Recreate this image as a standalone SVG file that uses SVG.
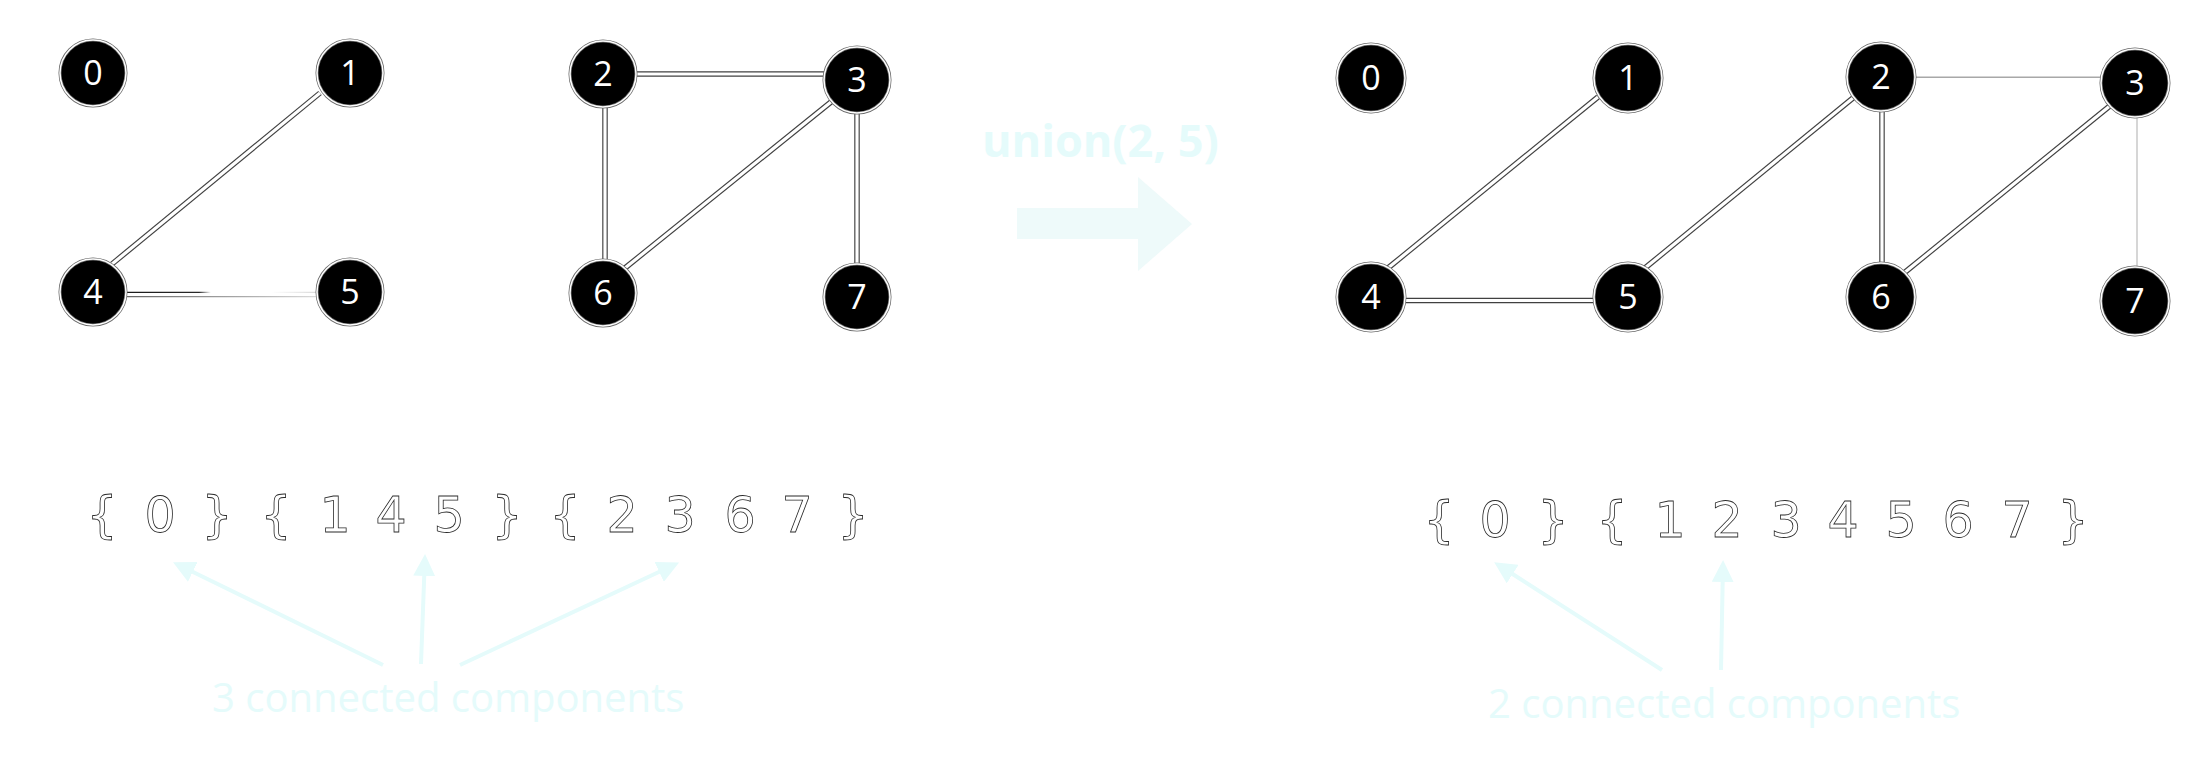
<svg xmlns="http://www.w3.org/2000/svg" width="2197" height="770" viewBox="0 0 2197 770">
<style>
.bg{fill:#ffffff}
.node circle{fill:#000;stroke:#6a6a6a;stroke-width:3}
.node .ring{fill:none;stroke:#fff;stroke-width:1.5}
.node text{font-family:"Open Sans","Liberation Sans",sans-serif;font-size:34px;fill:#fff;text-anchor:middle}
.eo{stroke:#404040;stroke-width:5.5;fill:none}
.ei{stroke:#fff;stroke-width:3.2;fill:none}
.set{font-family:"DejaVu Sans","Liberation Sans",sans-serif;font-size:49px;fill:#fff;stroke:#2a2a2a;stroke-width:0.8;text-anchor:middle}
.cap{font-family:"Open Sans","Liberation Sans",sans-serif;font-size:40px;fill:#e5fbfb}
.uni{font-family:"Open Sans","Liberation Sans",sans-serif;font-size:45px;font-weight:bold;fill:#e5fbfb}
.pt{stroke:#e5fbfb;stroke-width:4;fill:none;marker-end:url(#ah)}
</style>
<defs>
<marker id="ah" viewBox="0 -11 22 22" markerWidth="22" markerHeight="22" refX="2" refY="0" orient="auto" markerUnits="userSpaceOnUse">
<path d="M0,-11 L22,0 L0,11 z" fill="#e5fbfb"/>
</marker>
<linearGradient id="g45t" gradientUnits="userSpaceOnUse" x1="125" y1="0" x2="320" y2="0">
<stop offset="0" stop-color="#1a1a1a"/>
<stop offset="0.38" stop-color="#2a2a2a"/>
<stop offset="0.44" stop-color="#ffffff"/>
<stop offset="0.75" stop-color="#ffffff"/>
<stop offset="1" stop-color="#d8d8d8"/>
</linearGradient>
<linearGradient id="g45b" gradientUnits="userSpaceOnUse" x1="125" y1="0" x2="320" y2="0">
<stop offset="0" stop-color="#666"/>
<stop offset="0.6" stop-color="#aaa"/>
<stop offset="1" stop-color="#ddd"/>
</linearGradient>
</defs>
<rect class="bg" x="0" y="0" width="2197" height="770"/>

<g id="connectors">
<!-- left graph -->
<line class="eo" x1="320" y1="93" x2="112" y2="264"/>
<line class="ei" x1="320" y1="93" x2="112" y2="264"/>
<line x1="126" y1="292.3" x2="318" y2="292.3" stroke="url(#g45t)" stroke-width="1.2"/>
<line x1="126" y1="296.7" x2="318" y2="296.7" stroke="url(#g45b)" stroke-width="1.2"/>
<line class="eo" x1="635" y1="74" x2="825" y2="74"/>
<line class="ei" x1="635" y1="74" x2="825" y2="74"/>
<line class="eo" x1="605" y1="107" x2="605" y2="260"/>
<line class="ei" x1="605" y1="107" x2="605" y2="260"/>
<line class="eo" x1="831" y1="102" x2="625" y2="268"/>
<line class="ei" x1="831" y1="102" x2="625" y2="268"/>
<line class="eo" x1="857" y1="113" x2="857" y2="265"/>
<line class="ei" x1="857" y1="113" x2="857" y2="265"/>
<!-- right graph -->
<line class="eo" x1="1598" y1="97" x2="1388" y2="268"/>
<line class="ei" x1="1598" y1="97" x2="1388" y2="268"/>
<line class="eo" x1="1404" y1="300.5" x2="1596" y2="300.5"/>
<line class="ei" x1="1404" y1="300.5" x2="1596" y2="300.5"/>
<line class="eo" x1="1645" y1="268" x2="1853" y2="98"/>
<line class="ei" x1="1645" y1="268" x2="1853" y2="98"/>
<line x1="1914" y1="77.3" x2="2102" y2="77.3" stroke="#a8a8a8" stroke-width="1.5"/>
<line class="eo" x1="1882" y1="112" x2="1882" y2="266"/>
<line class="ei" x1="1882" y1="112" x2="1882" y2="266"/>
<line class="eo" x1="2111" y1="105" x2="1904" y2="273"/>
<line class="ei" x1="2111" y1="105" x2="1904" y2="273"/>
<line x1="2137" y1="116" x2="2137" y2="268" stroke="#d6d6d6" stroke-width="2"/>
<!-- pointer arrows -->
<line class="pt" x1="383" y1="665" x2="191" y2="571"/>
<line class="pt" x1="421" y1="664" x2="424.3" y2="574"/>
<line class="pt" x1="460" y1="665" x2="661" y2="571"/>
<line class="pt" x1="1662" y1="670" x2="1511" y2="573"/>
<line class="pt" x1="1721" y1="670" x2="1722.7" y2="580"/>
</g>

<g id="left-nodes">
<g id="L0" class="node"><circle cx="93" cy="73" r="33"/><circle class="ring" cx="93" cy="73" r="33"/><text x="93" y="85">0</text></g>
<g id="L1" class="node"><circle cx="350" cy="73" r="33"/><circle class="ring" cx="350" cy="73" r="33"/><text x="350" y="85">1</text></g>
<g id="L2" class="node"><circle cx="603" cy="74" r="33"/><circle class="ring" cx="603" cy="74" r="33"/><text x="603" y="86">2</text></g>
<g id="L3" class="node"><circle cx="857" cy="80" r="33"/><circle class="ring" cx="857" cy="80" r="33"/><text x="857" y="92">3</text></g>
<g id="L4" class="node"><circle cx="93" cy="292" r="33"/><circle class="ring" cx="93" cy="292" r="33"/><text x="93" y="304">4</text></g>
<g id="L5" class="node"><circle cx="350" cy="292" r="33"/><circle class="ring" cx="350" cy="292" r="33"/><text x="350" y="304">5</text></g>
<g id="L6" class="node"><circle cx="603" cy="293" r="33"/><circle class="ring" cx="603" cy="293" r="33"/><text x="603" y="305">6</text></g>
<g id="L7" class="node"><circle cx="857" cy="297" r="33"/><circle class="ring" cx="857" cy="297" r="33"/><text x="857" y="309">7</text></g>
</g>

<g id="right-nodes">
<g id="R0" class="node"><circle cx="1371" cy="78" r="34"/><circle class="ring" cx="1371" cy="78" r="34"/><text x="1371" y="90">0</text></g>
<g id="R1" class="node"><circle cx="1628" cy="78" r="34"/><circle class="ring" cx="1628" cy="78" r="34"/><text x="1628" y="90">1</text></g>
<g id="R2" class="node"><circle cx="1881" cy="77" r="34"/><circle class="ring" cx="1881" cy="77" r="34"/><text x="1881" y="89">2</text></g>
<g id="R3" class="node"><circle cx="2135" cy="83" r="34"/><circle class="ring" cx="2135" cy="83" r="34"/><text x="2135" y="95">3</text></g>
<g id="R4" class="node"><circle cx="1371" cy="297" r="34"/><circle class="ring" cx="1371" cy="297" r="34"/><text x="1371" y="309">4</text></g>
<g id="R5" class="node"><circle cx="1628" cy="297" r="34"/><circle class="ring" cx="1628" cy="297" r="34"/><text x="1628" y="309">5</text></g>
<g id="R6" class="node"><circle cx="1881" cy="297" r="34"/><circle class="ring" cx="1881" cy="297" r="34"/><text x="1881" y="309">6</text></g>
<g id="R7" class="node"><circle cx="2135" cy="301" r="34"/><circle class="ring" cx="2135" cy="301" r="34"/><text x="2135" y="313">7</text></g>
</g>

<g id="union-step">
<text class="uni" x="982" y="157">union(2, 5)</text>
<polygon points="1017,208 1138,208 1138,177 1192,224 1138,271 1138,239 1017,239" fill="#eefafa"/>
</g>

<g id="sets-before">
<text class="set" x="102 131 160 188 217 246 276 305 335 363 391 420 449 478 507 536 565 593 622 651 680 710 740 768 797 825 853" y="532">{ 0 } { 1 4 5 } { 2 3 6 7 }</text>
<text class="cap" x="212" y="712">3 connected components</text>
</g>

<g id="sets-after">
<text class="set" x="1439 1467 1495 1524 1553 1582 1612 1641 1670 1698 1727 1756 1786 1814 1843 1872 1901 1930 1958 1988 2017 2045 2073" y="537">{ 0 } { 1 2 3 4 5 6 7 }</text>
<text class="cap" x="1488" y="718">2 connected components</text>
</g>
</svg>
